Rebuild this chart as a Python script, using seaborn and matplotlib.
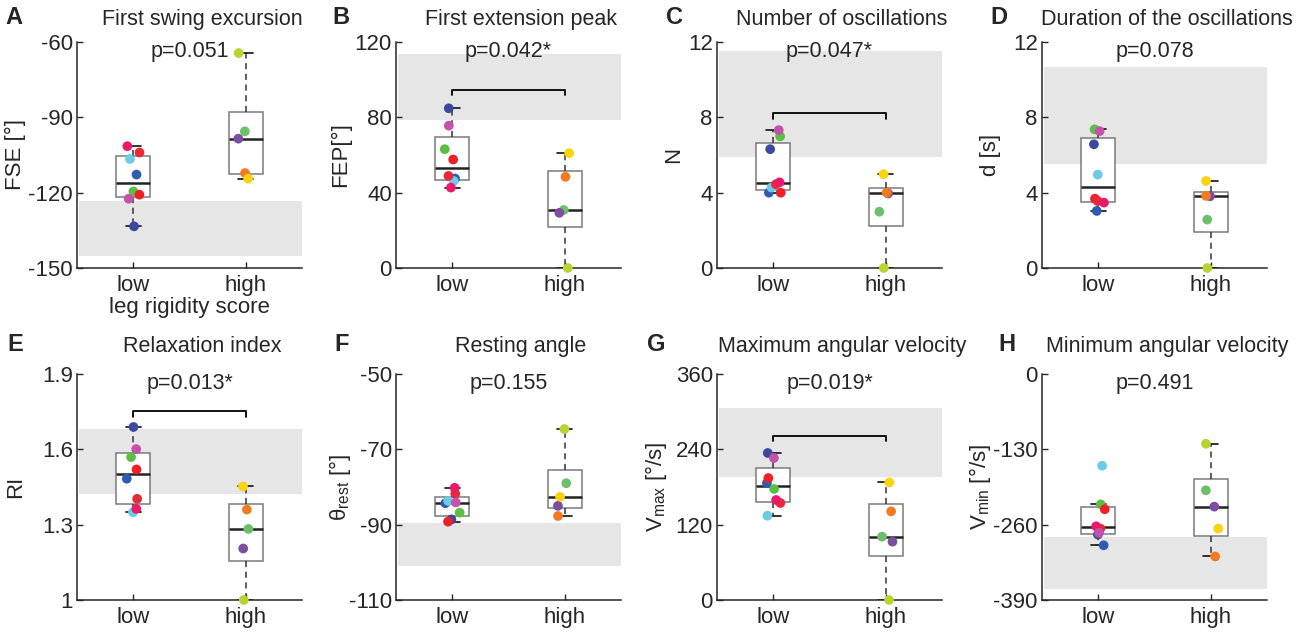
import numpy as np
import pandas as pd
import matplotlib
matplotlib.use("Agg")
import matplotlib.pyplot as plt
import seaborn as sns

# ---------------------------------------------------------------
# Data
# ---------------------------------------------------------------
groups = ['low', 'high']
low_subjects = ['S1', 'S2', 'S3', 'S4', 'S5', 'S6', 'S7', 'S8']
high_subjects = ['H1', 'H2', 'H3', 'H4', 'H5']
low_colors = ['#3b4a9e', '#2f5cb3', '#6ccbe6', '#5cbf45', '#ee2026', '#e62a3a', '#ea1a6a', '#c552aa']
high_colors = ['#b8d432', '#6dbf6b', '#7d4e9f', '#f27b21', '#fbd40f']

fse_low = [-133.4, -112.8, -106.6, -119.5, -120.8, -104.0, -101.5, -122.4]
fse_high = [-64.4, -95.6, -98.5, -112.2, -114.4]
fep_low = [84.8, 47.5, 46.2, 63.1, 57.6, 48.9, 42.7, 75.6]
fep_high = [0.0, 30.8, 29.3, 48.4, 61.0]
n_low = [6.31, 4.0, 4.27, 6.99, 4.0, 4.45, 4.55, 7.32]
n_high = [0.0, 2.99, 3.96, 4.0, 4.98]
d_low = [6.57, 3.03, 4.96, 7.36, 3.68, 3.56, 3.47, 7.27]
d_high = [0.0, 2.57, 3.81, 3.83, 4.62]
ri_low = [1.689, 1.483, 1.349, 1.569, 1.52, 1.403, 1.363, 1.601]
ri_high = [1.0, 1.283, 1.205, 1.36, 1.452]
rest_low = [-88.6, -84.3, -83.7, -86.8, -89.2, -81.8, -80.2, -84.1]
rest_high = [-64.6, -79.0, -85.0, -87.7, -82.6]
vmax_low = [234.2, 186.4, 134.3, 176.8, 194.3, 154.5, 159.3, 226.2]
vmax_high = [0.0, 100.9, 92.9, 141.2, 187.4]
vmin_low = [-277.0, -295.6, -158.3, -225.0, -233.4, -266.8, -262.8, -274.0]
vmin_high = [-120.4, -200.7, -228.9, -314.9, -266.8]

titles = ['First swing excursion', 'First extension peak', 'Number of oscillations',
          'Duration of the oscillations', 'Relaxation index', 'Resting angle',
          'Maximum angular velocity', 'Minimum angular velocity']
letters = ['A', 'B', 'C', 'D', 'E', 'F', 'G', 'H']
ylabels = ['FSE [°]', 'FEP[°]', 'N', 'd [s]', 'RI', r'θ$_{rest}$ [°]',
           r'V$_{max}$ [°/s]', r'V$_{min}$ [°/s]']
pvalues = ['p=0.051', 'p=0.042*', 'p=0.047*', 'p=0.078',
           'p=0.013*', 'p=0.155', 'p=0.019*', 'p=0.491']
yticks = [[-150, -120, -90, -60], [0, 40, 80, 120], [0, 4, 8, 12], [0, 4, 8, 12],
          [1, 1.3, 1.6, 1.9], [-110, -90, -70, -50], [0, 120, 240, 360], [-390, -260, -130, 0]]
# healthy reference range (grey band)
bands = [(-145.4, -123.2), (78.6, 113.8), (5.92, 11.5), (5.54, 10.67),
         (1.423, 1.68), (-101.0, -89.5), (195.4, 305.9), (-371.4, -281.0)]
# significance bracket height (None = no bracket)
brackets = [None, 94.6, 8.21, None, 1.753, None, 261.8, None]

low_sets = [fse_low, fep_low, n_low, d_low, ri_low, rest_low, vmax_low, vmin_low]
high_sets = [fse_high, fep_high, n_high, d_high, ri_high, rest_high, vmax_high, vmin_high]

palette = dict(zip(low_subjects + high_subjects, low_colors + high_colors))


def matlab_box(v):
    # MATLAB-style boxplot stats (hazen percentiles, 1.5 IQR whiskers)
    v = np.asarray(v, float)
    q1, med, q3 = np.percentile(v, [25, 50, 75], method='hazen')
    iqr = q3 - q1
    lo = v[v >= q1 - 1.5 * iqr].min()
    hi = v[v <= q3 + 1.5 * iqr].max()
    return dict(med=med, q1=q1, q3=q3, whislo=lo, whishi=hi, fliers=[])


sns.set_style("ticks")
plt.rcParams['font.family'] = ['Liberation Sans', 'DejaVu Sans']
plt.rcParams['mathtext.default'] = 'regular'

fig = plt.figure(figsize=(13, 6.34), dpi=100)

lefts = [77, 396, 717, 1042]
tops = [42, 374]
label_off = [0.227, 0.20, 0.147, 0.182, 0.227, 0.19, 0.213, 0.218]
letter_x = [-0.28, -0.244, -0.19, -0.19, -0.276, -0.24, -0.27, -0.155]
np.random.seed(3)

for i in range(8):
    r, c = divmod(i, 4)
    ax = fig.add_axes([lefts[c] / 1300, 1 - (tops[r] + 226) / 634, 225 / 1300, 226 / 634])
    ymin, ymax = yticks[i][0], yticks[i][-1]

    ax.axhspan(bands[i][0], bands[i][1], xmin=0.008, xmax=1,
               color='#e6e6e6', lw=0, zorder=0)

    ax.bxp([matlab_box(low_sets[i]), matlab_box(high_sets[i])], positions=[0, 1],
           widths=0.3, capwidths=0.13, showfliers=False, patch_artist=True,
           manage_ticks=False, zorder=2,
           boxprops=dict(facecolor='white', edgecolor='#7a7a7a', lw=1.1),
           medianprops=dict(color='#222222', lw=1.8),
           whiskerprops=dict(color='#333333', ls=(0, (4, 3)), lw=1.1),
           capprops=dict(color='#111111', lw=1.2))

    df = pd.DataFrame({
        'group': ['low'] * len(low_sets[i]) + ['high'] * len(high_sets[i]),
        'value': low_sets[i] + high_sets[i],
        'subject': low_subjects + high_subjects,
    })
    sns.stripplot(data=df, x='group', y='value', hue='subject', order=groups,
                  palette=palette, jitter=0.07, size=7, linewidth=0,
                  legend=False, ax=ax, zorder=3, clip_on=False)

    if brackets[i] is not None:
        drop = 0.025 * (ymax - ymin)
        b = brackets[i]
        ax.plot([0, 0, 1, 1], [b - drop, b, b, b - drop], color='black', lw=1.3, zorder=4)

    ax.set_xlim(-0.5, 1.5)
    ax.set_ylim(ymin, ymax)
    ax.set_yticks(yticks[i])
    ax.set_yticklabels([f"{t:g}" for t in yticks[i]])
    ax.set_xticks([0, 1])
    ax.set_xticklabels(groups)
    ax.tick_params(direction='in', length=4, width=1, labelsize=16, color='#262626')
    ax.tick_params(axis='y', pad=3)
    ax.tick_params(axis='x', pad=5)
    for s in ['left', 'bottom']:
        ax.spines[s].set_color('#262626')
        ax.spines[s].set_linewidth(1.1)
    sns.despine(ax=ax)

    ax.set_ylabel(ylabels[i], fontsize=16)
    ax.yaxis.set_label_coords(-label_off[i], 0.5)
    ax.set_xlabel('leg rigidity score' if i == 0 else '', fontsize=16, labelpad=1)

    ty = 1.10 if r == 0 else 1.12
    ax.text(0.555, ty, titles[i], transform=ax.transAxes, ha='center', va='center',
            fontsize=15.5)
    ax.text(0.5, 0.958, pvalues[i], transform=ax.transAxes, ha='center', va='center',
            fontsize=15.5)
    ly = 1.11 if r == 0 else 1.13
    ax.text(letter_x[i], ly, letters[i], transform=ax.transAxes, ha='center', va='center',
            fontsize=17, fontweight='bold')

fig.savefig('out.png', dpi=100, facecolor='white')
